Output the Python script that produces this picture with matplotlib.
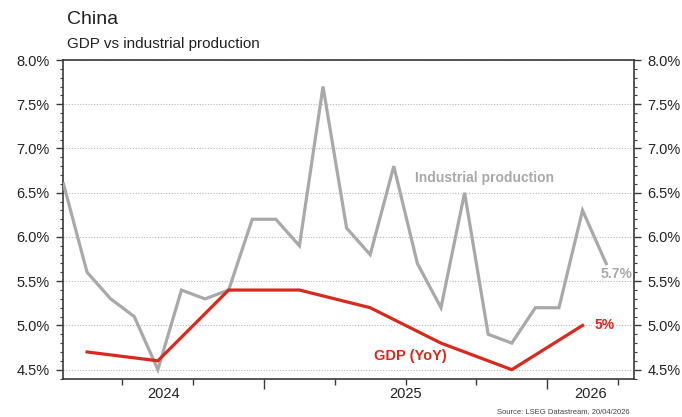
import matplotlib
matplotlib.use("Agg")
import matplotlib.pyplot as plt
from matplotlib.ticker import MultipleLocator, FuncFormatter

plt.rcParams['font.family'] = ['Liberation Sans', 'DejaVu Sans']

# monthly index: 0 = Apr 2024 ... 23 = Mar 2026
ip_months = list(range(24))
ip_values = [6.6, 5.6, 5.3, 5.1, 4.5, 5.4, 5.3, 5.4, 6.2, 6.2, 5.9, 7.7,
             6.1, 5.8, 6.8, 5.7, 5.2, 6.5, 4.9, 4.8, 5.2, 5.2, 6.3, 5.7]

# quarterly GDP, plotted on the middle month of each quarter
gdp_months = [1, 4, 7, 10, 13, 16, 19, 22]
gdp_values = [4.7, 4.6, 5.4, 5.4, 5.2, 4.8, 4.5, 5.0]

year_labels = ['2024', '2025', '2026']
year_bounds = [8.5, 20.5]
quarter_ticks = [2.5, 5.5, 11.5, 14.5, 17.5, 23.5]

red = '#d9291f'
grey = '#a9a9ac'
dark = '#3a3a3a'

fig = plt.figure(figsize=(6.82, 4.17), dpi=100)
ax = fig.add_axes([0.0931, 0.0923, 0.8358, 0.7638])

ax.plot(ip_months, ip_values, color=grey, lw=2.3, solid_joinstyle='miter', zorder=3)
ax.plot(gdp_months, gdp_values, color=red, lw=2.3, solid_joinstyle='miter', zorder=4)

ax.set_xlim(0, 24.16)
ax.set_ylim(4.4, 8.0)

# y axis on both sides
ax.yaxis.set_major_locator(MultipleLocator(0.5))
ax.yaxis.set_minor_locator(MultipleLocator(0.1))
ax.yaxis.set_major_formatter(FuncFormatter(lambda v, p: f'{v:.1f}%'))
ax.tick_params(axis='y', which='both', left=True, right=True, labelleft=True,
               labelright=True, direction='out', colors=dark, labelcolor='#222222',
               labelsize=10.5)
ax.tick_params(axis='y', which='major', length=5, width=1, pad=5)
ax.tick_params(axis='y', which='minor', length=2.5, width=0.8)
ax.grid(axis='y', which='major', color='#b8b8b8', ls=(0, (1, 1.5)), lw=0.8)

# x axis: year boundaries long, quarters short
ax.set_xticks(year_bounds)
ax.set_xticks(quarter_ticks, minor=True)
ax.set_xticklabels([])
ax.tick_params(axis='x', which='major', length=7, width=1, colors=dark)
ax.tick_params(axis='x', which='minor', length=4, width=1, colors=dark)

edges = [0] + year_bounds + [24.16]
for i, lab in enumerate(year_labels):
    ax.text((edges[i] + edges[i + 1]) / 2, -0.05, lab, transform=ax.get_xaxis_transform(),
            ha='center', va='center', fontsize=10.5, color='#222222')

for s in ax.spines.values():
    s.set_color(dark)
    s.set_linewidth(1.2)

ax.text(17.83, 6.67, 'Industrial production', color=grey, fontsize=10,
        fontweight='bold', ha='center', va='center')
ax.text(14.69, 4.65, 'GDP (YoY)', color=red, fontsize=10.5,
        fontweight='bold', ha='center', va='center')
ax.text(23.42, 5.58, '5.7%', color=grey, fontsize=10,
        fontweight='bold', ha='center', va='center')
ax.text(22.94, 5.01, '5%', color=red, fontsize=10,
        fontweight='bold', ha='center', va='center')

fig.text(67 / 682, 1 - 20 / 417, 'China', fontsize=14, ha='left', va='center', color='#222222')
fig.text(67 / 682, 1 - 44 / 417, 'GDP vs industrial production', fontsize=11,
         ha='left', va='center', color='#222222')
fig.text(630 / 682, 1 - 412 / 417, 'Source: LSEG Datastream, 20/04/2026', fontsize=5.5,
         ha='right', va='center', color='#444444')

fig.savefig('out.png', dpi=100)
